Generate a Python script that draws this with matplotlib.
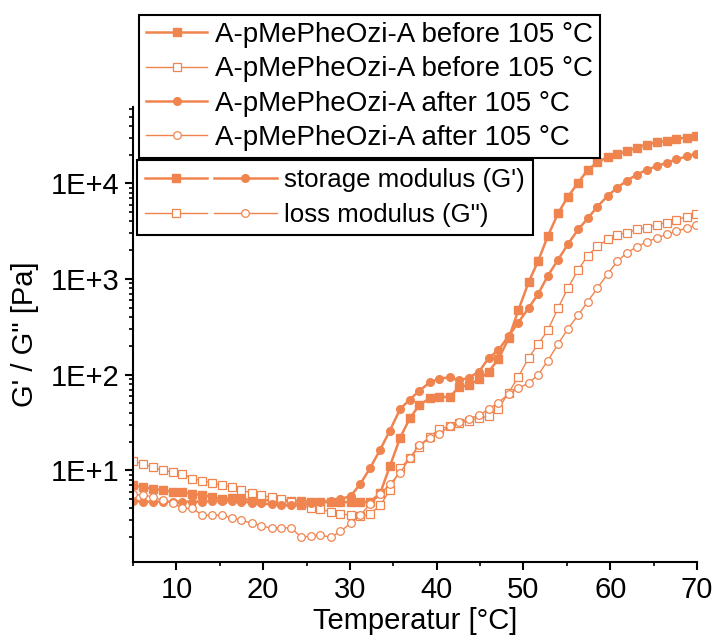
import numpy as np
import matplotlib
matplotlib.use("Agg")
import matplotlib.pyplot as plt
from matplotlib.ticker import FuncFormatter, LogLocator, MultipleLocator
from matplotlib.legend_handler import HandlerTuple
from matplotlib.lines import Line2D

plt.rcParams['font.family'] = ['Liberation Sans', 'DejaVu Sans']

# temperature grid [°C]
temp = [5.0, 6.1, 7.3, 8.4, 9.6, 10.7, 11.8, 13.0, 14.1, 15.3, 16.4, 17.5, 18.7, 19.8,
        21.0, 22.1, 23.2, 24.4, 25.5, 26.6, 27.8, 28.9, 30.1, 31.2, 32.3, 33.5, 34.6,
        35.8, 36.9, 38.0, 39.2, 40.3, 41.5, 42.6, 43.7, 44.9, 46.0, 47.1, 48.3, 49.4,
        50.6, 51.7, 52.8, 54.0, 55.1, 56.3, 57.4, 58.5, 59.7, 60.8, 61.9, 63.1, 64.2,
        65.4, 66.5, 67.6, 68.8, 69.9]

# storage modulus G' before 105 °C
g1_before = [7.0, 6.7, 6.4, 6.2, 6.0, 5.9, 5.7, 5.5, 5.3, 5.0, 5.1, 5.0, 4.9, 4.9,
             4.85, 4.85, 4.8, 4.75, 4.7, 4.65, 4.65, 4.65, 4.65, 4.65, 4.65, 5.8, 11,
             22, 35, 48, 57, 58, 59, 74, 78, 90, 108, 145, 240, 470,
             930, 1550, 2800, 4900, 7200, 10200, 13800, 16600, 18800, 20200, 21700, 23700, 25500,
             26900, 27900, 29200, 30200, 31000]

# loss modulus G'' before 105 °C
g2_before = [12.5, 11.7, 10.8, 10.0, 9.6, 9.2, 8.2, 7.8, 7.4, 7.0, 6.7, 6.2, 5.8, 5.5,
             5.2, 5.0, 4.7, 4.3, 4.0, 3.9, 3.7, 3.5, 3.4, 3.3, 3.5, 4.3, 6.2,
             10.5, 13.5, 17.5, 22.5, 27, 29, 31, 33, 35, 37, 44, 65, 95,
             150, 210, 290, 500, 800, 1250, 1750, 2200, 2600, 2900, 3050, 3300, 3450,
             3700, 3900, 4150, 4500, 4800]

# storage modulus G' after 105 °C
g1_after = [4.8, 4.7, 4.7, 4.7, 4.7, 4.7, 4.7, 4.7, 4.75, 4.8, 4.8, 4.7, 4.6, 4.5,
            4.4, 4.3, 4.3, 4.3, 4.5, 4.7, 4.8, 5.0, 5.4, 7.2, 10.5, 16.5, 26,
            44, 55, 68, 83, 91, 94, 87, 93, 108, 150, 180, 255, 350,
            500, 700, 1080, 1600, 2300, 3300, 4300, 5700, 7400, 9000, 10700, 12400, 13900,
            15200, 16400, 17800, 19200, 20500]

# loss modulus G'' after 105 °C
g2_after = [5.6, 5.5, 5.3, 4.85, 4.6, 4.0, 4.0, 3.4, 3.4, 3.4, 3.15, 3.0, 2.8, 2.6,
            2.5, 2.5, 2.5, 2.0, 2.05, 2.1, 2.0, 2.3, 2.8, 3.4, 4.4, 5.6, 7.2,
            9.4, 13.5, 18.5, 22, 24, 29, 32, 34.7, 37.6, 44, 51, 63, 72,
            82, 100, 140, 210, 300, 420, 580, 800, 1130, 1530, 1880, 2180, 2450,
            2700, 2930, 3160, 3420, 3650]

labels = ["A-pMePheOzi-A before 105 °C", "A-pMePheOzi-A before 105 °C",
          "A-pMePheOzi-A after 105 °C", "A-pMePheOzi-A after 105 °C"]

c = '#F0844F'

fig = plt.figure(figsize=(7.14, 6.37), dpi=100)
ax = fig.add_axes([133 / 714, 1 - 562 / 637, (697 - 133) / 714, (562 - 107) / 637])

filled = dict(color=c, lw=1.8, markersize=5.5, markerfacecolor=c, markeredgecolor=c)
opened = dict(color=c, lw=1.0, markersize=5.5, markerfacecolor='white',
              markeredgecolor=c, markeredgewidth=0.9)

h1, = ax.plot(temp, g1_before, marker='s', **filled)
h2, = ax.plot(temp, g2_before, marker='s', **opened)
h3, = ax.plot(temp, g1_after, marker='o', **filled)
h4, = ax.plot(temp, g2_after, marker='o', **opened)

ax.set_yscale('log')
ax.set_xlim(5, 70)
ax.set_ylim(1.1, 6.3e4)

ax.spines['top'].set_visible(False)
ax.spines['right'].set_visible(False)
for s in ('left', 'bottom'):
    ax.spines[s].set_linewidth(1.5)

ax.xaxis.set_major_locator(MultipleLocator(10))
ax.xaxis.set_minor_locator(MultipleLocator(5))
ax.yaxis.set_major_locator(LogLocator(base=10, numticks=10))
ax.yaxis.set_minor_locator(LogLocator(base=10, subs=np.arange(2, 10), numticks=20))
ax.yaxis.set_major_formatter(FuncFormatter(lambda v, p: "1E+%d" % round(np.log10(v))))
ax.tick_params(which='major', direction='out', length=6, width=1.5, labelsize=21, pad=4)
ax.tick_params(which='minor', direction='out', length=3, width=1.2)

ax.set_xlabel("Temperatur [°C]", fontsize=21, labelpad=2)
ax.set_ylabel("G' / G\" [Pa]", fontsize=21, labelpad=8)

leg1 = fig.legend([h1, h2, h3, h4], labels, loc='upper left',
                  bbox_to_anchor=(139 / 714, 1 - 15 / 637), bbox_transform=fig.transFigure,
                  fontsize=20, frameon=True, fancybox=False, framealpha=1,
                  edgecolor='black', borderaxespad=0, handlelength=2.2, handletextpad=0.3,
                  labelspacing=0.3, borderpad=0.25, numpoints=1)
leg1.get_frame().set_linewidth(1.5)

s1 = Line2D([], [], marker='s', **filled)
s2 = Line2D([], [], marker='o', **filled)
l1 = Line2D([], [], marker='s', **opened)
l2 = Line2D([], [], marker='o', **opened)
leg2 = fig.legend([(s1, s2), (l1, l2)], ["storage modulus (G')", "loss modulus (G\")"],
                  handler_map={tuple: HandlerTuple(ndivide=None, pad=0.27)},
                  loc='upper left', bbox_to_anchor=(137 / 714, 1 - 160 / 637),
                  bbox_transform=fig.transFigure, fontsize=18.6, frameon=True, fancybox=False,
                  framealpha=1, edgecolor='black', borderaxespad=0, handlelength=5.1,
                  handletextpad=0.3, labelspacing=0.45, borderpad=0.3, numpoints=1)
leg2.get_frame().set_linewidth(1.5)

fig.savefig("out.png", dpi=100)
